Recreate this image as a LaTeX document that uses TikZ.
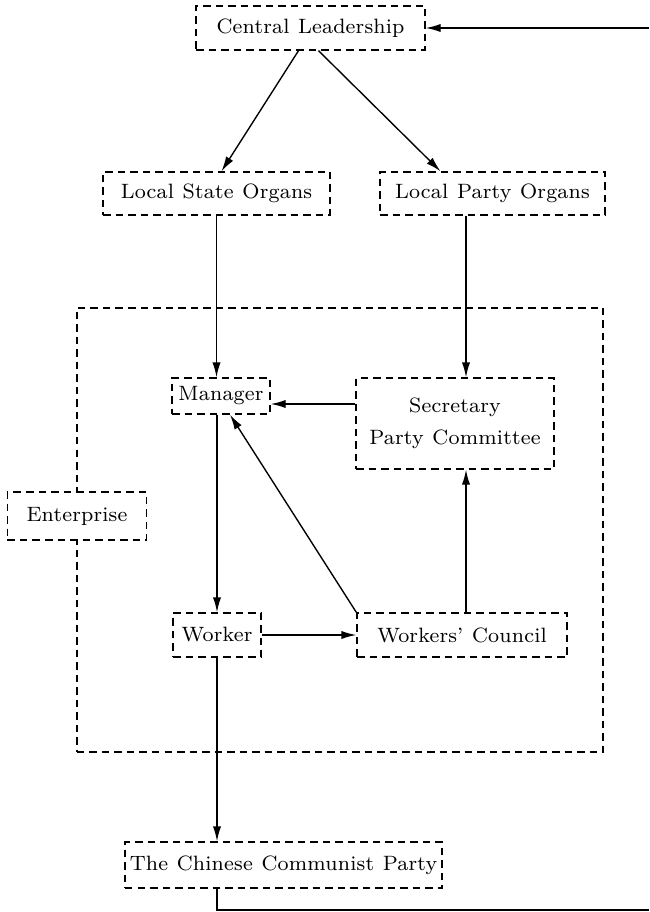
\documentclass[tikz,border=0pt]{standalone}
\usepackage{fontspec}
\setmainfont{Latin Modern Roman}[LetterSpace=1.0,WordSpace=1.15]
\usetikzlibrary{arrows.meta,calc}
\begin{document}
\begin{tikzpicture}[x=0.4pt,y=-0.4pt,
  box/.style={draw,dash pattern=on 3pt off 2pt,line width=0.55pt,inner sep=0pt,align=center,
    font=\fontsize{8.3}{12}\selectfont},
  arr/.style={line width=0.55pt,-{Latex[length=6pt,width=3.3pt]}},
  ln/.style={line width=0.55pt}]
\useasboundingbox (0,0) rectangle (649,912);
\node[box,minimum width=91.6pt,minimum height=17.6pt] (cl) at (310.5,28) {Central Leadership};
\node[box,minimum width=90.8pt,minimum height=17.2pt] (lso) at (216.5,193.5) {Local State Organs};
\node[box,minimum width=90pt,minimum height=17.2pt] (lpo) at (492.5,193.5) {Local Party Organs};
\node[box,minimum width=210.4pt,minimum height=177.6pt] (ent) at (340,530) {};
\node[box,fill=white,minimum width=55.6pt,minimum height=19.2pt] (entl) at (77,516) {Enterprise};
\node[box,minimum width=39.2pt,minimum height=14.4pt] (mgr) at (221,396) {Manager};
\node[box,minimum width=79.2pt,minimum height=36.4pt] (sec) at (455,423.5) {Secretary\\[1pt]Party Committee};
\node[box,minimum width=35.2pt,minimum height=17.6pt] (wk) at (217,635) {Worker};
\node[box,minimum width=84pt,minimum height=17.6pt] (wc) at (462,635) {Workers' Council};
\node[box,minimum width=126.8pt,minimum height=18.4pt] (ccp) at (283.5,865) {The Chinese Communist Party};
\coordinate (tr) at (649,28);
\coordinate (br) at (649,910);
\coordinate (s1) at ($(sec.north)+(11,0)$);
\coordinate (m1) at ($(mgr.south)+(9,0)$);
% connectors
\draw[arr] (tr) -- (cl.east);
\draw[arr] ($(cl.south)+(-12,0)$) -- ($(lso.north)+(5,0)$);
\draw[arr] ($(cl.south)+(8,0)$) -- ($(lpo.north)+(-52,0)$);
\draw[arr] (lso.south) -- (lso.south |- mgr.north);
\draw[arr] (s1 |- lpo.south) -- (s1);
\draw[arr] (sec.west |- 0,404) -- (mgr.east |- 0,404);
\draw[arr] (wk.north |- mgr.south) -- (wk.north);
\draw[arr] (wk.east) -- (wc.west);
\draw[arr] (s1 |- wc.north) -- (s1 |- sec.south);
\draw[arr] (wc.north west) -- (m1);
\draw[arr] (wk.south) -- (wk.south |- ccp.north);
\draw[ln] (wk.south |- ccp.south) -- (wk.south |- br) -- (br);
\end{tikzpicture}
\end{document}
